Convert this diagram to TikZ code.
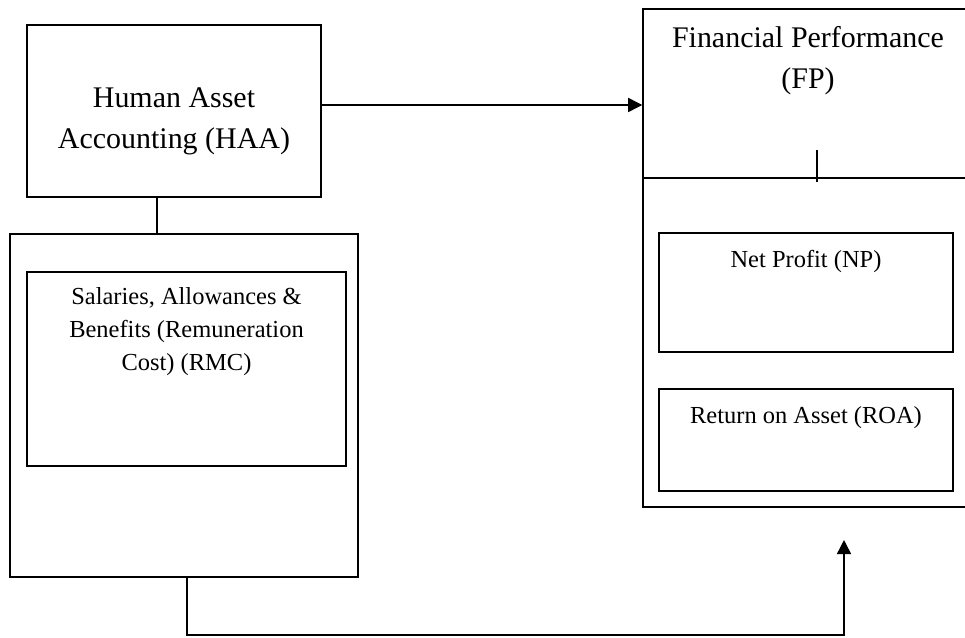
\documentclass[tikz,border=0pt]{standalone}
\usepackage{fontspec}
\setmainfont{Liberation Serif}
\usetikzlibrary{arrows.meta}
\begin{document}
\begin{tikzpicture}[x=0.025cm,y=-0.025cm,
    box/.style={draw,line width=1pt,inner sep=0pt},
    bigtxt/.style={align=center,inner sep=0pt,anchor=north,font=\fontsize{21.3}{29.2}\selectfont},
    smalltxt/.style={align=center,inner sep=0pt,anchor=north,font=\fontsize{17.4}{23.5}\selectfont},
    link/.style={line width=1pt},
    arr/.style={line width=1pt,-{Triangle[length=10pt,width=10pt]}}]
  \clip (0,0) rectangle (965,637);
  % left side
  \node[box,minimum width=7.35cm,minimum height=4.3cm] (haa) at (174,111) {};
  \node[box,minimum width=8.7cm,minimum height=8.575cm] (hold) at (184,405.5) {};
  \node[box,minimum width=7.975cm,minimum height=4.85cm] (rmc) at (186.5,369) {};
  \node[bigtxt] (haatxt) at (174,87) {Human Asset\\Accounting (HAA)};
  \node[smalltxt] (rmctxt) at (186.5,287) {Salaries, Allowances \&\\Benefits (Remuneration\\Cost) (RMC)};
  % right side
  \node[box,minimum width=8.3cm,minimum height=4.225cm] (fp) at (809,93.5) {};
  \node[box,minimum width=8.3cm,minimum height=8.225cm] (fplow) at (809,342.5) {};
  \node[box,minimum width=7.35cm,minimum height=2.975cm] (np) at (806,292.5) {};
  \node[box,minimum width=7.35cm,minimum height=2.55cm] (roa) at (806,440) {};
  \node[bigtxt] (fptxt) at (808,26) {Financial Performance\\(FP)};
  \node[smalltxt] (nptxt) at (806,250) {Net Profit (NP)};
  \node[smalltxt] (roatxt) at (806,406) {Return on Asset (ROA)};
  % connectors
  \coordinate (hx) at (157,0);
  \coordinate (ay) at (0,105);
  \coordinate (tick) at (817,150);
  \coordinate (turn) at (187,635);
  \coordinate (up) at (844,540);
  \draw[link] (haa.south -| hx) -- (hold.north -| hx);
  \draw[arr] (haa.east |- ay) -- (fp.west |- ay);
  \draw[link] (tick) -- ++(0,32);
  \draw[arr] (hold.south -| turn) -- (turn) -| (up);
\end{tikzpicture}
\end{document}
